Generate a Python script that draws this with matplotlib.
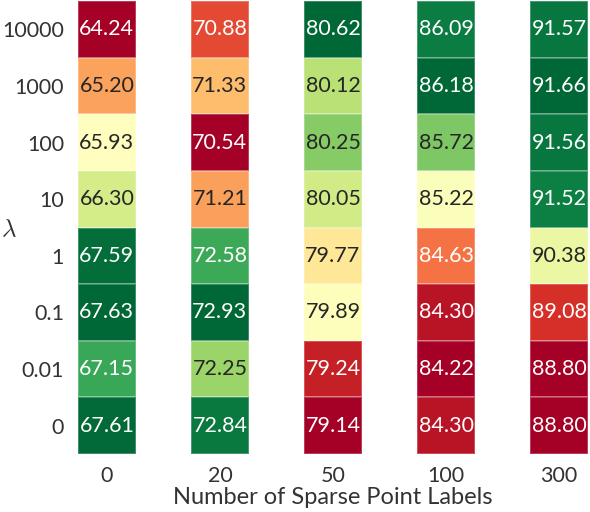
import numpy as np
import matplotlib
matplotlib.use("Agg")
import matplotlib.pyplot as plt
from matplotlib.colors import Normalize, to_rgb

lambdas = ["10000", "1000", "100", "10", "1", "0.1", "0.01", "0"]
n_labels = ["0", "20", "50", "100", "300"]
col_0 = [64.24, 65.20, 65.93, 66.30, 67.59, 67.63, 67.15, 67.61]
col_20 = [70.88, 71.33, 70.54, 71.21, 72.58, 72.93, 72.25, 72.84]
col_50 = [80.62, 80.12, 80.25, 80.05, 79.77, 79.89, 79.24, 79.14]
col_100 = [86.09, 86.18, 85.72, 85.22, 84.63, 84.30, 84.22, 84.30]
col_300 = [91.57, 91.66, 91.56, 91.52, 90.38, 89.08, 88.80, 88.80]
columns = [col_0, col_20, col_50, col_100, col_300]

plt.rcParams['font.family'] = ['Lato', 'DejaVu Sans']
TXT = "#333333"

fig = plt.figure(figsize=(5.9, 5.12), dpi=100)
ax = fig.add_axes([78/590, 58/512, 510/590, 453/512])
cmap = plt.get_cmap("RdYlGn")
w = 0.51
nrows = len(lambdas)

def lum(c):
    rgb = np.array(to_rgb(c))
    rgb = np.where(rgb <= 0.03928, rgb/12.92, ((rgb+0.055)/1.055)**2.4)
    return 0.2126*rgb[0] + 0.7152*rgb[1] + 0.0722*rgb[2]

for j, vals in enumerate(columns):
    vals = np.array(vals)
    norm = Normalize(vmin=vals.min(), vmax=vals.max())
    xe = np.array([j - w/2, j + w/2])
    ye = np.arange(nrows + 1)
    ax.pcolormesh(xe, ye, vals.reshape(-1, 1), cmap=cmap, norm=norm,
                  edgecolors=(1, 1, 1, 0.25), linewidth=0.3)
    for i, v in enumerate(vals):
        c = cmap(norm(v))
        tc = "#262626" if lum(c) > 0.408 else "white"
        ax.text(j, i + 0.5, f"{v:.2f}", ha="center", va="center",
                color=tc, fontsize=15.5)

ax.set_xlim(-w/2, len(columns) - 1 + w/2)
ax.set_ylim(nrows, 0)
ax.set_xticks(range(len(n_labels)))
ax.set_xticklabels(n_labels)
ax.set_yticks(np.arange(nrows) + 0.5)
ax.set_yticklabels(lambdas)
ax.tick_params(axis="y", length=0, labelsize=15.5, colors=TXT, pad=10)
ax.tick_params(axis="x", length=0, labelsize=15.5, colors=TXT, pad=9)
for s in ax.spines.values():
    s.set_visible(False)
ax.set_xlabel("Number of Sparse Point Labels", fontsize=17, color=TXT, labelpad=0)
fig.text(9/590, 1 - 229/512, r"$\lambda$", fontsize=18, color=TXT, ha="center",
         va="center", math_fontfamily="cm")

fig.savefig("out.png", dpi=100)
